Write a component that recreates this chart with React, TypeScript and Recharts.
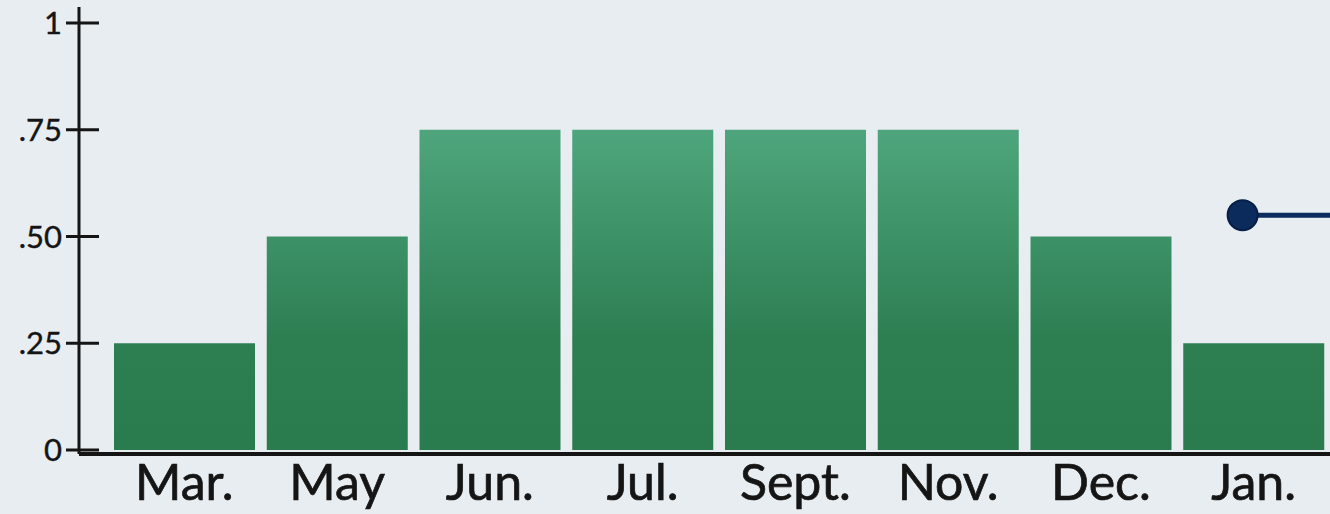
import React from 'react';
import { BarChart, Bar, XAxis, YAxis, ReferenceDot } from 'recharts';

const categories = ['Mar.', 'May', 'Jun.', 'Jul.', 'Sept.', 'Nov.', 'Dec.', 'Jan.'];
const values = [0.25, 0.5, 0.75, 0.75, 0.75, 0.75, 0.5, 0.25];
const yTicks = [0, 0.25, 0.5, 0.75, 1];
const yTickLabels = ['0', '.25', '.50', '.75', '1'];
const markerCategory = 'Jan.';
const markerValue = 0.55;

const data = categories.map((c, i) => ({ month: c, value: values[i] }));

const FONT = 'Lato, "Open Sans", sans-serif';
const INK = '#151515';

const YTick = (props: any) => {
  const { x, y, payload } = props;
  const idx = yTicks.indexOf(payload.value);
  const label = idx >= 0 ? yTickLabels[idx] : String(payload.value);
  return (
    <g>
      <line x1={x - 13} x2={x + 20} y1={y} y2={y} stroke={INK} strokeWidth={3} />
      <text x={x - 17} y={y} dy="0.36em" textAnchor="end" fontSize={31} fontFamily={FONT} fill={INK} stroke={INK} strokeWidth={0.4}>
        {label}
      </text>
    </g>
  );
};

const XTick = (props: any) => {
  const { x, y, payload } = props;
  return (
    <text x={x} y={y + 46} textAnchor="middle" fontSize={50} fontFamily={FONT} fill={INK} stroke={INK} strokeWidth={0.7}>
      {payload.value}
    </text>
  );
};

const MarkerShape = (props: any) => {
  const { cx, cy } = props;
  const px = cx - 11;
  return (
    <g>
      <line x1={px} x2={px + 120} y1={cy} y2={cy} stroke="#0b2c5e" strokeWidth={5} />
      <circle cx={px} cy={cy} r={15} fill="#0a2b5c" stroke="#061f47" strokeWidth={2} />
    </g>
  );
};

export default function App() {
  return (
    <div style={{ position: 'absolute', left: 0, top: 0, width: 1330, height: 514, background: '#e8edf1', overflow: 'hidden' }}>
      <BarChart
        width={1330}
        height={514}
        data={data}
        margin={{ top: 7, right: 0, bottom: 0, left: 0 }}
        barCategoryGap={6}
      >
        <defs>
          <linearGradient id="barGrad" gradientUnits="userSpaceOnUse" x1="0" y1="128" x2="0" y2="450">
            <stop offset="0" stopColor="#4fa57d" />
            <stop offset="0.65" stopColor="#2d7f52" />
            <stop offset="1" stopColor="#2a7b4e" />
          </linearGradient>
        </defs>
        <XAxis
          dataKey="month"
          axisLine={{ stroke: INK, strokeWidth: 4 }}
          tickLine={false}
          tickSize={0}
          tickMargin={0}
          height={60}
          padding={{ left: 29, right: 0 }}
          tick={<XTick />}
          interval={0}
        />
        <YAxis
          domain={[0, 1]}
          ticks={yTicks}
          width={79}
          axisLine={{ stroke: INK, strokeWidth: 3 }}
          tickLine={false}
          tickSize={0}
          tickMargin={0}
          padding={{ top: 16, bottom: 4 }}
          tick={<YTick />}
          interval={0}
        />
        <Bar dataKey="value" fill="url(#barGrad)" isAnimationActive={false} />
        <ReferenceDot x={markerCategory} y={markerValue} shape={<MarkerShape />} ifOverflow="visible" />
      </BarChart>
    </div>
  );
}
